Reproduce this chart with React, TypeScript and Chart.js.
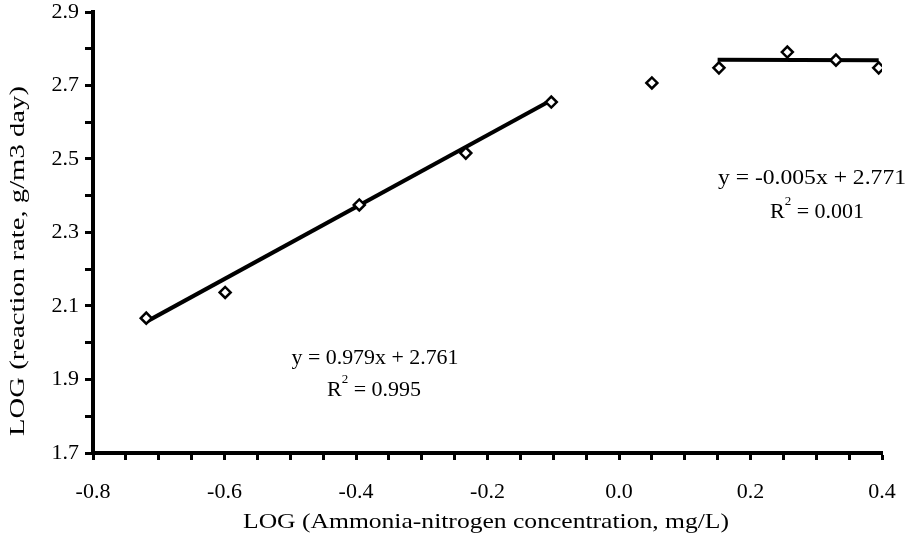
import React, { useEffect, useRef } from "react";
import { Chart, registerables } from "chart.js";

Chart.register(...registerables);

// Measured data (LOG ammonia-nitrogen concentration vs LOG reaction rate)
const logConc = [-0.719, -0.599, -0.395, -0.233, -0.103, 0.05, 0.152, 0.256, 0.33, 0.395];
const logRate = [2.067, 2.137, 2.375, 2.516, 2.655, 2.707, 2.748, 2.791, 2.769, 2.748];

// Trendline fits: slope, intercept and x-range
const fit1 = { slope: 0.979, intercept: 2.761, xFrom: -0.72, xTo: -0.11 };
const fit2 = { slope: -0.005, intercept: 2.771, xFrom: 0.15, xTo: 0.395 };

const eq1 = ["y = 0.979x + 2.761", "0.995"];
const eq2 = ["y = -0.005x + 2.771", "0.001"];

const xTitle = "LOG (Ammonia-nitrogen concentration, mg/L)";
const yTitle = "LOG (reaction rate, g/m3 day)";

const FONT = "'Liberation Serif', 'Times New Roman', serif";

function fitLine(f: { slope: number; intercept: number; xFrom: number; xTo: number }) {
  return [
    { x: f.xFrom, y: f.slope * f.xFrom + f.intercept },
    { x: f.xTo, y: f.slope * f.xTo + f.intercept },
  ];
}

function stretchedText(ctx: CanvasRenderingContext2D, text: string, cx: number, cy: number, targetW: number, rot: number) {
  const w = ctx.measureText(text).width;
  ctx.save();
  ctx.translate(cx, cy);
  ctx.rotate(rot);
  ctx.scale(targetW / w, 1);
  ctx.textAlign = "center";
  ctx.textBaseline = "middle";
  ctx.fillText(text, 0, 0);
  ctx.restore();
}

const textPlugin = {
  id: "texts",
  afterDraw(chart: any) {
    const ctx = chart.ctx as CanvasRenderingContext2D;
    ctx.save();
    ctx.fillStyle = "#000";
    ctx.font = `21px ${FONT}`;
    // axis titles
    stretchedText(ctx, xTitle, 486, 522, 486, 0);
    stretchedText(ctx, yTitle, 18, 261, 350, -Math.PI / 2);

    const drawEq = (lines: string[], cx: number, y1: number, y2: number, w1: number, cx2: number) => {
      ctx.font = `21px ${FONT}`;
      ctx.textBaseline = "middle";
      stretchedText(ctx, lines[0], cx, y1, w1, 0);
      ctx.font = `22px ${FONT}`;
      const rest = " = " + lines[1];
      const wR = ctx.measureText("R").width;
      ctx.font = `13px ${FONT}`;
      const w2 = ctx.measureText("2").width;
      ctx.font = `22px ${FONT}`;
      const wRest = ctx.measureText(rest).width;
      const total = wR + w2 + wRest;
      let x = cx2 - total / 2;
      ctx.textAlign = "left";
      ctx.fillText("R", x, y2);
      x += wR;
      ctx.font = `13px ${FONT}`;
      ctx.fillText("2", x, y2 - 10);
      x += w2;
      ctx.font = `22px ${FONT}`;
      ctx.fillText(rest, x, y2);
    };
    drawEq(eq1, 375, 358, 390, 167, 374);
    drawEq(eq2, 812, 178, 212, 188, 817);
    ctx.restore();
  },
};

export default function App() {
  const ref = useRef<HTMLCanvasElement | null>(null);
  useEffect(() => {
    if (!ref.current) return;
    const chart = new Chart(ref.current, {
      type: "scatter",
      data: {
        datasets: [
          {
            label: "data",
            data: logConc.map((x, i) => ({ x, y: logRate[i] })),
            pointStyle: "rectRot",
            pointRadius: 5.5,
            pointBorderWidth: 2.5,
            borderColor: "#000",
            backgroundColor: "#fff",
            showLine: false,
            order: 0,
          },
          {
            label: "fit1",
            data: fitLine(fit1),
            showLine: true,
            borderColor: "#000",
            borderWidth: 4,
            pointRadius: 0,
            order: 1,
          },
          {
            label: "fit2",
            data: fitLine(fit2),
            showLine: true,
            borderColor: "#000",
            borderWidth: 4,
            pointRadius: 0,
            order: 1,
          },
        ],
      },
      options: {
        animation: false,
        responsive: false,
        maintainAspectRatio: false,
        layout: { padding: { left: 0, right: 25, top: 12, bottom: 0 } },
        plugins: { legend: { display: false }, tooltip: { enabled: false } },
        scales: {
          x: {
            type: "linear",
            min: -0.8,
            max: 0.4,
            afterFit: (s: any) => {
              s.height = 95;
              s.paddingLeft = 0;
              s.paddingRight = 0;
            },
            border: { display: true, color: "#000", width: 4 },
            grid: {
              drawOnChartArea: false,
              drawTicks: true,
              tickLength: 7,
              tickWidth: 3,
              tickColor: "#000",
            },
            ticks: {
              stepSize: 0.05,
              autoSkip: false,
              maxRotation: 0,
              color: "#000",
              padding: 19,
              font: { family: FONT, size: 22 },
              callback: (v: any) => {
                const n = Math.round(Number(v) * 20);
                if (n % 4 !== 0) return "";
                const val = n / 20;
                return Math.abs(val) < 1e-9 ? "0.0" : val.toFixed(1);
              },
            },
          },
          y: {
            type: "linear",
            min: 1.7,
            max: 2.9,
            afterFit: (s: any) => {
              s.width = 93;
              s.paddingTop = 0;
              s.paddingBottom = 0;
            },
            border: { display: true, color: "#000", width: 4 },
            grid: {
              drawOnChartArea: false,
              drawTicks: true,
              tickLength: 8,
              tickWidth: 3,
              tickColor: "#000",
            },
            ticks: {
              stepSize: 0.1,
              autoSkip: false,
              color: "#000",
              padding: 6,
              font: { family: FONT, size: 22 },
              callback: (v: any) => {
                const n = Math.round(Number(v) * 10);
                if (Math.abs(n) % 2 !== 1) return "";
                return (n / 10).toFixed(1);
              },
            },
          },
        },
      },
      plugins: [textPlugin],
    });
    return () => chart.destroy();
  }, []);
  return (
    <div style={{ position: "absolute", left: 0, top: 0, width: 907, height: 548 }}>
      <canvas ref={ref} width={907} height={548} style={{ width: 907, height: 548 }} />
    </div>
  );
}
